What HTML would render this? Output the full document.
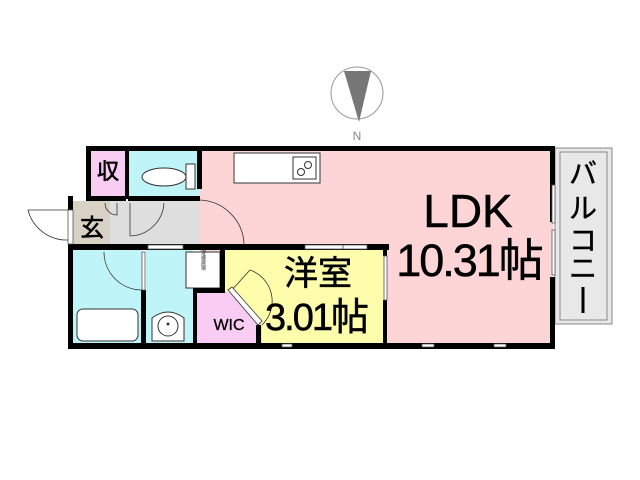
<!DOCTYPE html>
<html><head><meta charset="utf-8"><style>
html,body{margin:0;padding:0;background:#fff;}
svg{display:block;}
text{font-family:"Liberation Sans","Noto Sans CJK JP",sans-serif;}
</style></head><body>
<svg width="640" height="480" viewBox="0 0 640 480" xmlns="http://www.w3.org/2000/svg">
<!-- compass -->
<circle cx="357" cy="93" r="26" fill="#fff" stroke="#999" stroke-width="1"/>
<polygon points="344,71 371,71 359,122" fill="#777"/>
<text x="357" y="140" font-size="12" fill="#888" text-anchor="middle">N</text>

<!-- balcony -->
<rect x="555" y="148" width="57" height="176" fill="#e8e8e8" stroke="#888" stroke-width="1"/>
<rect x="560" y="152" width="47" height="168" fill="#e8e8e8" stroke="#888" stroke-width="1"/>
<text font-size="28" fill="#000" text-anchor="middle" stroke="#000" stroke-width="0.4"><tspan x="583" y="183">バ</tspan><tspan x="583" y="218">ル</tspan><tspan x="583" y="250">コ</tspan><tspan x="583" y="278">ニ</tspan></text>
<rect x="581.5" y="287" width="3" height="26" fill="#000"/>

<!-- room fills -->
<rect x="200" y="148" width="353" height="198" fill="#fdd5d6"/>
<rect x="90" y="148" width="37" height="50" fill="#f9ccf3"/>
<rect x="129" y="148" width="71" height="50" fill="#bff4f8"/>
<rect x="73" y="201" width="37" height="45" fill="#d8d2c4"/>
<rect x="110" y="201" width="90" height="45" fill="#dedede"/>
<rect x="73" y="250" width="69" height="93" fill="#bff4f8"/>
<rect x="146" y="250" width="47" height="93" fill="#bff4f8"/>
<polygon points="225,250 386,250 386,343 260,343 260,330 225,292" fill="#fdfdab"/>
<polygon points="197,292 230,292 262,325 262,343 197,343" fill="#f9ccf3"/>

<!-- kitchen counter -->
<rect x="234" y="153" width="86" height="30" fill="#fff" stroke="#333"/>
<rect x="293" y="157" width="23" height="22" fill="#fff" stroke="#333"/>
<circle cx="301" cy="172" r="3.5" fill="none" stroke="#333"/>
<circle cx="308" cy="165" r="3.5" fill="none" stroke="#333"/>
<!-- toilet -->
<ellipse cx="164" cy="177" rx="22" ry="9" fill="#fff" stroke="#333"/>
<rect x="186" y="164" width="9" height="25" fill="#fff" stroke="#333"/>
<!-- bath -->
<rect x="77" y="309" width="61" height="32" rx="6" fill="#fff" stroke="#333"/>
<!-- sink -->
<path d="M152,341 L152,318 Q168,306 184,318 L184,341 Z" fill="#fff" stroke="#333"/>
<circle cx="168" cy="326" r="10" fill="#fff" stroke="#333"/>
<circle cx="168" cy="324" r="1.5" fill="#333"/>
<!-- washing machine -->
<rect x="186" y="252" width="34" height="36" fill="#fff" stroke="#333"/>
<text x="203" y="258" font-size="5" fill="#333" text-anchor="middle" writing-mode="tb">洗濯機置場</text>

<!-- walls -->
<g fill="#000">
<rect x="86" y="146" width="469" height="5"/>
<rect x="86" y="146" width="5" height="55"/>
<rect x="125" y="146" width="4" height="53"/>
<rect x="197" y="146" width="5" height="43"/>
<rect x="86" y="196" width="40" height="5"/>
<rect x="128" y="196" width="72" height="5"/>
<rect x="550" y="146" width="5" height="76"/>
<rect x="550" y="277" width="5" height="72"/>
<rect x="68" y="196" width="5" height="14"/>
<rect x="68" y="244" width="5" height="105"/>
<rect x="68" y="244" width="321" height="6"/>
<rect x="68" y="343" width="487" height="6"/>
<rect x="141" y="290" width="5" height="55"/>
<rect x="193" y="288" width="4" height="57"/>
<rect x="193" y="288" width="32" height="5"/>
<rect x="220" y="248" width="5" height="44"/>
<rect x="383" y="248" width="4" height="8"/>
<rect x="383" y="300" width="4" height="45"/>
<rect x="256" y="325" width="5" height="20"/>
</g>
<!-- windows / openings -->
<g fill="#fff" stroke="#555" stroke-width="0.8">
<rect x="552" y="185" width="3" height="38"/><rect x="552" y="230" width="3" height="45"/>
<rect x="142" y="252" width="3" height="38"/>
<rect x="384" y="256" width="3" height="44"/>
<rect x="282" y="344" width="10" height="3"/><rect x="422" y="344" width="12" height="3"/><rect x="494" y="344" width="12" height="3"/>
<rect x="68" y="210" width="5" height="34"/>
<rect x="148" y="245" width="35" height="4"/>
<rect x="305" y="245" width="38" height="4"/>
<rect x="343" y="245" width="24" height="4"/>
</g>
<!-- doors -->
<g fill="none" stroke="#333" stroke-width="0.8">
<path d="M68,210 L28,210 A40,40 0 0 0 68,240"/>
<path d="M200,200 A46,46 0 0 1 244,244"/>
<path d="M130,203 L130,236 A35,35 0 0 0 164,203"/>
<path d="M105,203 A12,12 0 0 0 117,215 L117,203"/>
<path d="M104,252 A38,38 0 0 0 142,290"/>
<path d="M230,292 L250,270 A33,33 0 0 1 262,325"/>
</g>
<polygon points="228,290 232,287 262,321 258,325" fill="#fff" stroke="#333" stroke-width="0.8"/>

<!-- labels -->
<text x="108" y="179" font-size="22" text-anchor="middle" stroke="#000" stroke-width="0.6">収</text>
<text x="92" y="236" font-size="24" text-anchor="middle" stroke="#000" stroke-width="0.6">玄</text>
<text x="468" y="227" font-size="46" text-anchor="middle" stroke="#000" stroke-width="0.5">LDK</text>
<text x="469" y="276" font-size="45" text-anchor="middle" letter-spacing="-2" stroke="#000" stroke-width="0.5">10.31帖</text>
<text x="318" y="285" font-size="34" text-anchor="middle" stroke="#000" stroke-width="0.5">洋室</text>
<text x="316" y="330" font-size="38" text-anchor="middle" letter-spacing="-2" stroke="#000" stroke-width="0.5">3.01帖</text>
<text x="229" y="330" font-size="16" text-anchor="middle" stroke="#000" stroke-width="0.3">WIC</text>
</svg>
</body></html>
